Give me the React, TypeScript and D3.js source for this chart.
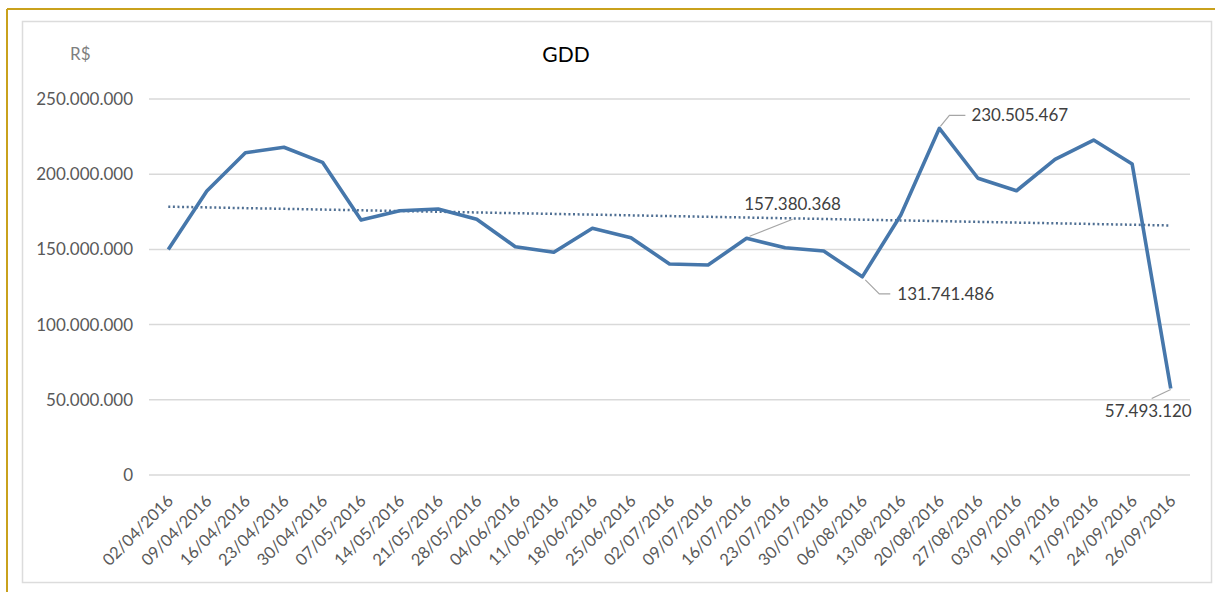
import React from "react";
import * as d3 from "d3";

// Weekly GDD totals (R$)
const dates = [
  "02/04/2016", "09/04/2016", "16/04/2016", "23/04/2016", "30/04/2016",
  "07/05/2016", "14/05/2016", "21/05/2016", "28/05/2016", "04/06/2016",
  "11/06/2016", "18/06/2016", "25/06/2016", "02/07/2016", "09/07/2016",
  "16/07/2016", "23/07/2016", "30/07/2016", "06/08/2016", "13/08/2016",
  "20/08/2016", "27/08/2016", "03/09/2016", "10/09/2016", "17/09/2016",
  "24/09/2016", "26/09/2016",
];

const gdd = [
  150000000, 188800000, 214300000, 217900000, 207900000,
  169500000, 175700000, 176900000, 170000000, 151800000,
  148100000, 164000000, 157800000, 140300000, 139600000,
  157380368, 151100000, 148900000, 131741486, 172900000,
  230505467, 197300000, 189000000, 209900000, 222700000,
  206800000, 57493120,
];

const yTicks = [0, 50000000, 100000000, 150000000, 200000000, 250000000];

// Points that carry a value label
const labelled = ["16/07/2016", "06/08/2016", "20/08/2016", "26/09/2016"];

const W = 1215;
const H = 592;
const FONT = "Lato, 'Open Sans', 'Liberation Sans', sans-serif";

const fmt = (v: number) =>
  Math.round(v).toString().replace(/\B(?=(\d{3})+(?!\d))/g, ".");

export default function App() {
  const x = d3.scaleBand<string>().domain(dates).range([149, 1190]);
  const y = d3.scaleLinear().domain([0, 250000000]).range([475, 99]);
  const cx = (d: string) => (x(d) as number) + x.bandwidth() / 2;

  const line = d3
    .line<number>()
    .x((_, i) => cx(dates[i]))
    .y((v) => y(v));

  // Least-squares linear trend over the weekly series
  const n = gdd.length;
  const idx = d3.range(n);
  const mi = d3.mean(idx) as number;
  const mv = d3.mean(gdd) as number;
  const slope =
    d3.sum(idx, (i) => (i - mi) * (gdd[i] - mv)) /
    d3.sum(idx, (i) => (i - mi) * (i - mi));
  const trendAt = (i: number) => mv + slope * (i - mi);

  const pt = (d: string) => {
    const i = dates.indexOf(d);
    return [cx(d), y(gdd[i]), gdd[i]] as [number, number, number];
  };

  const [p16x, p16y, v16] = pt(labelled[0]);
  const [p06x, p06y, v06] = pt(labelled[1]);
  const [p20x, p20y, v20] = pt(labelled[2]);
  const [p26x, p26y, v26] = pt(labelled[3]);

  const labelStyle = { fontFamily: FONT, fontSize: 17, fill: "#404040" };

  return (
    <div style={{ position: "absolute", left: 0, top: 0 }}>
      <svg width={W} height={H} style={{ display: "block" }}>
        <rect x={0} y={0} width={W} height={H} fill="#ffffff" />
        {/* outer frame */}
        <line x1={7} y1={9} x2={W} y2={9} stroke="#c9a11c" strokeWidth={2} />
        <line x1={7} y1={9} x2={7} y2={H} stroke="#c9a11c" strokeWidth={2} />
        {/* chart area frame */}
        <rect x={22.5} y={21.5} width={1189} height={561} fill="#fff" stroke="#dcdcdc" strokeWidth={1.5} />

        <text x={70} y={60} style={{ fontFamily: FONT, fontSize: 17, fill: "#7f7f7f" }}>R$</text>
        <text x={566} y={62} textAnchor="middle" style={{ fontFamily: FONT, fontSize: 21, fill: "#000" }}>GDD</text>

        {/* gridlines and y labels */}
        {yTicks.map((t) => (
          <g key={t}>
            <line x1={149} x2={1190} y1={y(t)} y2={y(t)} stroke="#d9d9d9" strokeWidth={1.5} />
            <text x={133} y={y(t)} dy="0.35em" textAnchor="end" style={{ fontFamily: FONT, fontSize: 17, fill: "#595959" }}>
              {fmt(t)}
            </text>
          </g>
        ))}

        {/* x labels */}
        {dates.map((d) => (
          <text
            key={d}
            transform={`translate(${cx(d) + 6},${502}) rotate(-45)`}
            textAnchor="end"
            style={{ fontFamily: FONT, fontSize: 16.5, fill: "#595959" }}
          >
            {d}
          </text>
        ))}

        {/* trend line */}
        <line
          x1={cx(dates[0])}
          y1={y(trendAt(0))}
          x2={cx(dates[n - 1])}
          y2={y(trendAt(n - 1))}
          stroke="#4f6f93"
          strokeWidth={2.5}
          strokeDasharray="2 2.6"
        />

        {/* series */}
        <path d={line(gdd) as string} fill="none" stroke="#4677ab" strokeWidth={3.6} strokeLinejoin="round" />

        {/* value labels with leaders */}
        <g fill="none" stroke="#a6a6a6" strokeWidth={1.2}>
          <polyline points={`${p16x + 3},${p16y - 2} ${p16x + 46},${p16y - 19}`} />
          <polyline points={`${p06x + 3},${p06y + 3} ${p06x + 17},${p06y + 17} ${p06x + 28},${p06y + 17}`} />
          <polyline points={`${p20x + 1},${p20y - 2} ${p20x + 10},${p20y - 13} ${p20x + 26},${p20y - 13}`} />
          <polyline points={`${p26x},${p26y + 1} ${p26x - 19},${p26y + 10}`} />
        </g>
        <text x={p16x + 46} y={p16y - 28} textAnchor="middle" style={labelStyle}>{fmt(v16)}</text>
        <text x={p06x + 35} y={p06y + 23} style={labelStyle}>{fmt(v06)}</text>
        <text x={p20x + 32} y={p20y - 7} style={labelStyle}>{fmt(v20)}</text>
        <text x={p26x + 21} y={p26y + 28} textAnchor="end" style={labelStyle}>{fmt(v26)}</text>
      </svg>
    </div>
  );
}
